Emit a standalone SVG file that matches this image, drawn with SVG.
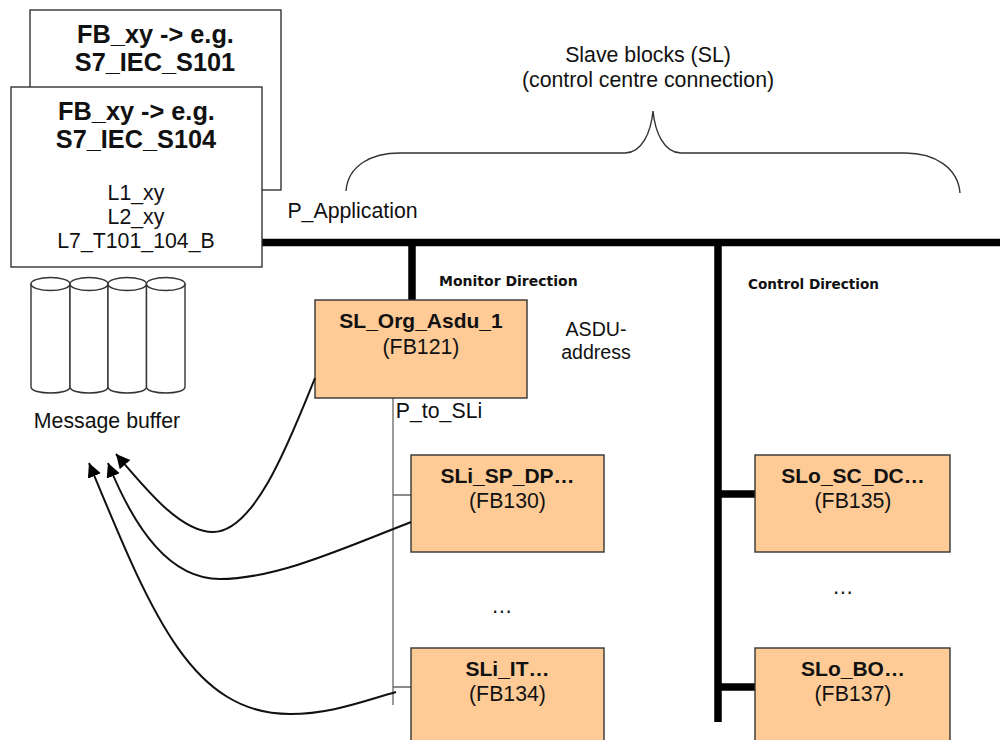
<svg xmlns="http://www.w3.org/2000/svg" width="1000" height="740" viewBox="0 0 1000 740">
<style>
text{font-family:"Liberation Sans",Arial,sans-serif;text-anchor:middle;fill:#111}
.h{font-size:25.3px;font-weight:bold}
.m{font-size:21.3px}
.b{font-size:21px;font-weight:bold}
.d{font-family:"DejaVu Sans",sans-serif;font-size:14px;font-weight:bold;text-anchor:start}
.box{fill:#fff;stroke:#333;stroke-width:1.4}
.org{fill:#fecb96;stroke:#333;stroke-width:1.4}
.bus{stroke:#000;stroke-width:7.500;fill:none}
.thin{stroke:#666;stroke-width:1.300;fill:none}
.cur{stroke:#111;stroke-width:2;fill:none;marker-end:url(#a)}
.cyl{fill:#fff;stroke:#333;stroke-width:1.4}
</style>
<defs>
<marker id="a" markerUnits="userSpaceOnUse" markerWidth="18" markerHeight="18" refX="14" refY="7" orient="auto"><path d="M0 0L14 7L0 14z" fill="#000"/></marker>
</defs>
<g id="connectors">
<path class="bus" d="M262 242.500H1000M412 242.500V300M718 242.500V722M718 494H755M718 687H755"/>
<path class="thin" d="M393 398V705M393 495H411M393 687H411"/>
<path d="M346 191C348 165 372 153 400 153H625C642 153 651 132 653 111C655 132 664 153 681 153H905C935 153 958 168 960 193" fill="none" stroke="#333" stroke-width="1.4"/>
</g>
<g id="fb-s101"><rect class="box" x="30" y="10" width="251" height="180"/>
<text class="h" x="155.500" y="43">FB_xy -&gt; e.g.</text><text class="h" x="155" y="71">S7_IEC_S101</text></g>
<g id="fb-s104"><rect class="box" x="11" y="87" width="251" height="180"/>
<text class="h" x="136.500" y="120">FB_xy -&gt; e.g.</text><text class="h" x="136" y="148">S7_IEC_S104</text>
<text class="m" x="136" y="200">L1_xy</text><text class="m" x="136" y="224">L2_xy</text><text class="m" x="136" y="248">L7_T101_104_B</text></g>
<g id="message-buffer">
<path class="cyl" d="M31 284V387C31 395 70 395 70 387V284z"/><ellipse class="cyl" cx="50.500" cy="284" rx="19.500" ry="6.500"/>
<path class="cyl" d="M70 284V387C70 395 108 395 108 387V284z"/><ellipse class="cyl" cx="89" cy="284" rx="19" ry="6.500"/>
<path class="cyl" d="M108 284V387C108 395 146.500 395 146.500 387V284z"/><ellipse class="cyl" cx="127.250" cy="284" rx="19.250" ry="6.500"/>
<path class="cyl" d="M146.500 284V387C146.500 395 185 395 185 387V284z"/><ellipse class="cyl" cx="165.750" cy="284" rx="19.250" ry="6.500"/>
<text class="m" x="107" y="428">Message buffer</text></g>
<g id="sl-org-asdu"><rect class="org" x="315" y="300" width="212" height="98"/>
<text class="b" x="421" y="328">SL_Org_Asdu_1</text><text class="m" x="421" y="354">(FB121)</text></g>
<g id="sli-sp-dp"><rect class="org" x="411" y="455" width="193" height="97"/>
<text class="b" x="507.500" y="483">SLi_SP_DP…</text><text class="m" x="507.500" y="508">(FB130)</text></g>
<g id="sli-it"><rect class="org" x="411" y="648" width="193" height="97"/>
<text class="b" x="507.500" y="676">SLi_IT…</text><text class="m" x="507.500" y="701">(FB134)</text></g>
<g id="slo-sc-dc"><rect class="org" x="755" y="455" width="195" height="97"/>
<text class="b" x="853" y="483">SLo_SC_DC…</text><text class="m" x="853" y="508">(FB135)</text></g>
<g id="slo-bo"><rect class="org" x="755" y="648" width="195" height="97"/>
<text class="b" x="853" y="676">SLo_BO…</text><text class="m" x="853" y="701">(FB137)</text></g>
<g id="curves">
<path class="cur" d="M315 378C290 440 255 532 213 532C180 532 145 488 116 454"/>
<path class="cur" d="M411 522C340 550 275 579 220 579C170 579 135 530 108 463"/>
<path class="cur" d="M396 692C360 702 330 714 290 714C190 714 150 610 89 463"/>
</g>
<g id="labels">
<text class="m" x="648" y="62">Slave blocks (SL)</text>
<text class="m" x="648" y="87">(control centre connection)</text>
<text class="m" x="352.500" y="218">P_Application</text>
<text class="d" x="439" y="286">Monitor Direction</text>
<text class="d" x="748" y="289" style="font-size:13.600px">Control Direction</text>
<text class="m" x="596" y="336" style="font-size:19.600px">ASDU-</text><text class="m" x="596" y="359" style="font-size:19.600px">address</text>
<text class="m" x="439" y="418">P_to_SLi</text>
<text class="m" x="502" y="613">…</text>
<text class="m" x="843" y="594">…</text>
</g>
</svg>
